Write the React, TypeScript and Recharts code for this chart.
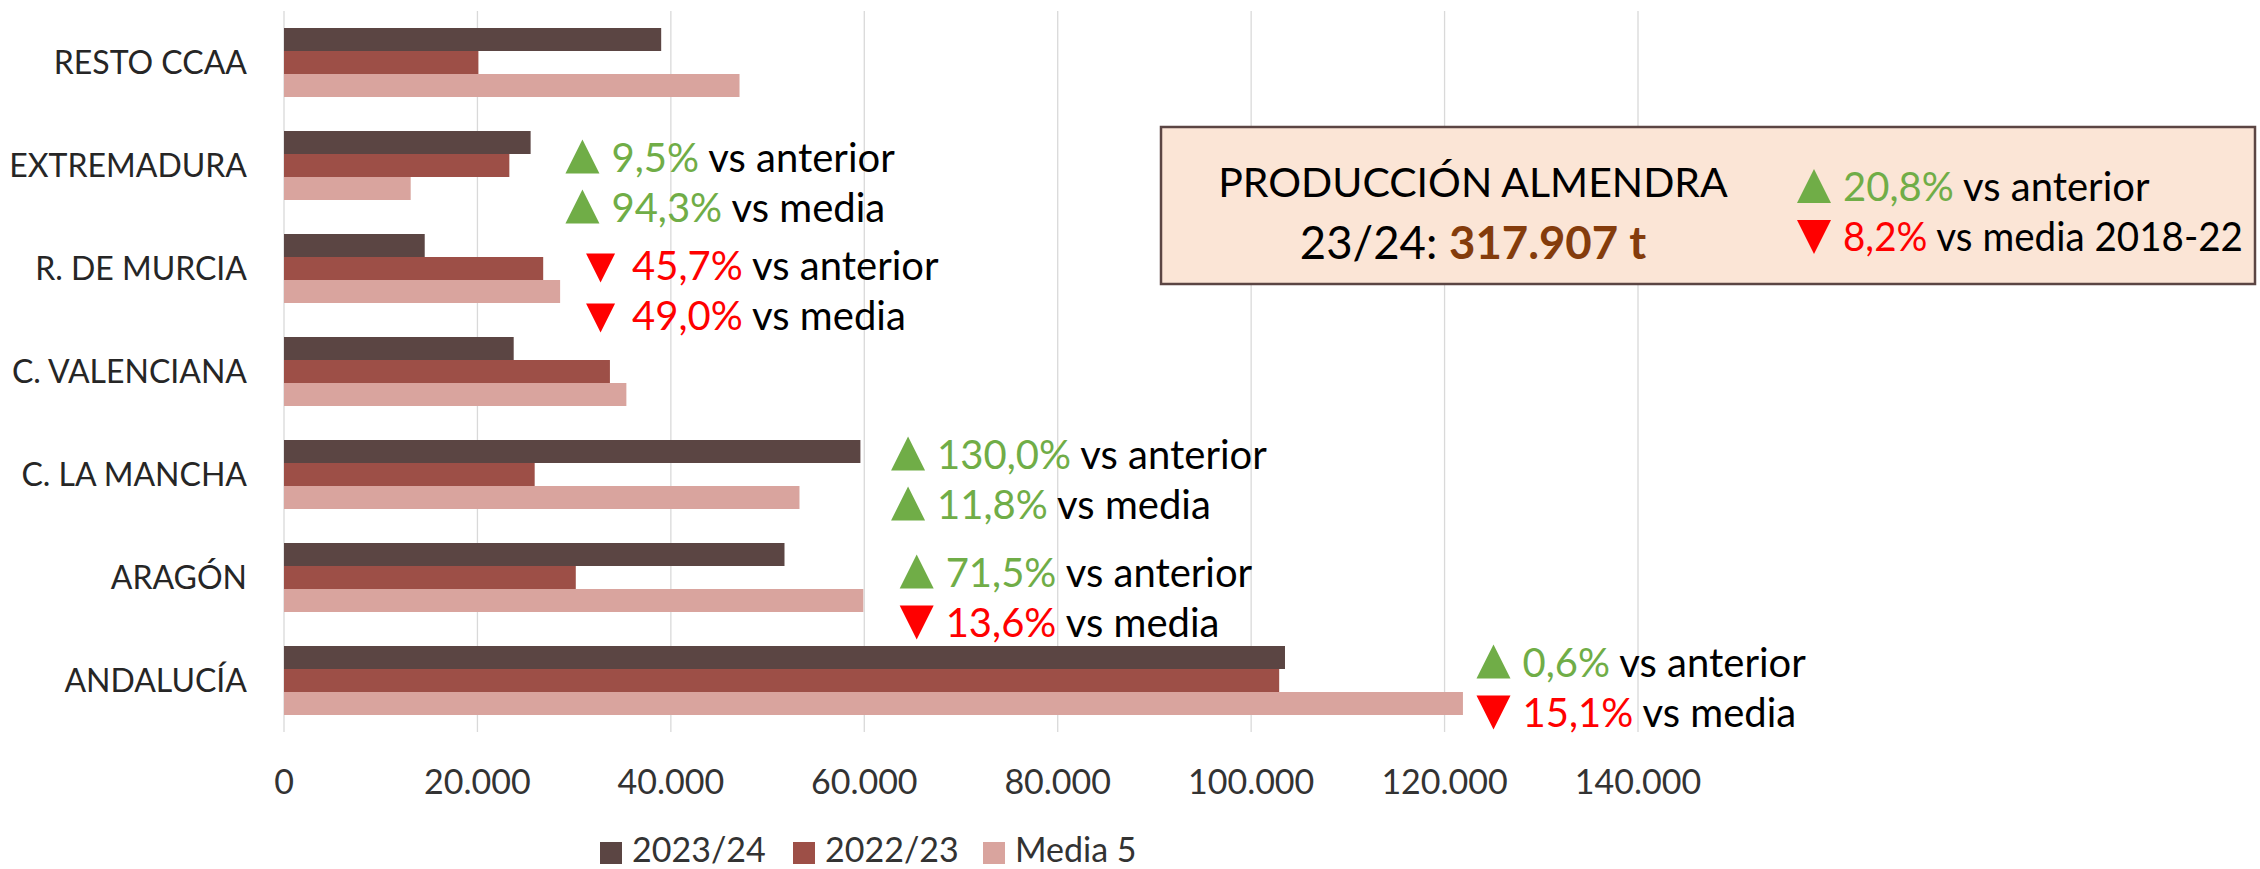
import React from 'react';
import { BarChart, Bar, XAxis, YAxis, CartesianGrid, Legend, ReferenceDot } from 'recharts';

// ---------- data ----------
const categories = ['RESTO CCAA', 'EXTREMADURA', 'R. DE MURCIA', 'C. VALENCIANA', 'C. LA MANCHA', 'ARAGÓN', 'ANDALUCÍA'];
const serie2324 = [39000, 25500, 14550, 23750, 59600, 51750, 103500];
const serie2223 = [20100, 23300, 26800, 33700, 25920, 30170, 102900];
const serieMedia5 = [47100, 13100, 28550, 35400, 53300, 59900, 121900];
const seriesNames = ['2023/24', '2022/23', 'Media 5'];
const xTicks = [0, 20000, 40000, 60000, 80000, 100000, 120000, 140000];

const annCategories = ['EXTREMADURA', 'R. DE MURCIA', 'C. LA MANCHA', 'ARAGÓN', 'ANDALUCÍA'];
const annAnchorValues = [29100, 31230, 62770, 63660, 123300];
const annVsAnterior = [9.5, -45.7, 130.0, 71.5, 0.6];
const annVsMedia = [94.3, -49.0, 11.8, -13.6, -15.1];

const summaryTitle = 'PRODUCCIÓN ALMENDRA';
const summaryLabel = '23/24: ';
const summaryValue = '317.907 t';
const summaryVsAnterior = 20.8;
const summaryVsMedia = -8.2;

// ---------- layout / style ----------
const W = 2260;
const H = 869;
const FONT = 'Lato, "Open Sans", sans-serif';
const C_DARK = '#5B4543';
const C_MED = '#9D4F47';
const C_LIGHT = '#D9A49E';
const GREEN = '#70AD47';
const RED = '#FF0000';
const annDy = [6, 11, -6, 9, -4];
const annTriSize = [34, 29, 34, 34, 34];
const legendX = [600, 793, 983];

const data = categories.map((name, i) => ({
  name,
  v2324: serie2324[i],
  v2223: serie2223[i],
  media: serieMedia5[i],
}));

const fmtThousands = (v: number) => String(Math.round(v)).replace(/\B(?=(\d{3})+(?!\d))/g, '.');
const fmtPct = (v: number) => Math.abs(v).toFixed(1).replace('.', ',') + '%';

const Triangle = ({ x, b, up, s, color }: { x: number; b: number; up: boolean; s: number; color: string }) => {
  const pts = up
    ? `${x},${b + 2} ${x + s},${b + 2} ${x + s / 2},${b + 2 - s}`
    : `${x},${b + 3 - s} ${x + s},${b + 3 - s} ${x + s / 2},${b + 3}`;
  return <polygon points={pts} fill={color} />;
};

const makeAnnotation = (idx: number) => (props: any) => {
  const { cx, cy } = props;
  const vals = [annVsAnterior[idx], annVsMedia[idx]];
  const labels = ['vs anterior', 'vs media'];
  return (
    <g>
      {vals.map((v, i) => {
        const b = cy + annDy[idx] + i * 50;
        const up = v >= 0;
        return (
          <g key={i}>
            <Triangle x={cx} b={b} up={up} s={annTriSize[idx]} color={up ? GREEN : RED} />
            <text x={cx + 46} y={b} fontFamily={FONT} fontSize={40} style={{ whiteSpace: 'pre' }}>
              <tspan fill={up ? GREEN : RED}>{fmtPct(v)}</tspan>
              <tspan fill="#000">{' ' + labels[i]}</tspan>
            </text>
          </g>
        );
      })}
    </g>
  );
};

const LegendContent = () => (
  <svg width={W} height={50} style={{ display: 'block', overflow: 'visible' }}>
    {seriesNames.map((n, i) => (
      <g key={n}>
        <rect x={legendX[i]} y={23} width={22} height={22} fill={[C_DARK, C_MED, C_LIGHT][i]} />
        <text x={legendX[i] + 32} y={43} fontFamily={FONT} fontSize={34} fill="#333">
          {n}
        </text>
      </g>
    ))}
  </svg>
);

const SummaryBox = () => {
  const up = summaryVsAnterior >= 0;
  const up2 = summaryVsMedia >= 0;
  return (
    <svg width={W} height={H} style={{ position: 'absolute', left: 0, top: 0, pointerEvents: 'none' }}>
      <rect x={1161} y={127} width={1094} height={157} fill="#FBE5D6" stroke="#5B4543" strokeWidth={2.5} />
      <text x={1473} y={197} textAnchor="middle" fontFamily={FONT} fontSize={41} fill="#000">
        {summaryTitle}
      </text>
      <text x={1473} y={259} textAnchor="middle" fontFamily={FONT} fontSize={45.5} fill="#000" style={{ whiteSpace: 'pre' }}>
        <tspan>{summaryLabel}</tspan>
        <tspan fontWeight="bold" fill="#843C0C">{summaryValue}</tspan>
      </text>
      <Triangle x={1797} b={201} up={up} s={34} color={up ? GREEN : RED} />
      <text x={1843} y={201} fontFamily={FONT} fontSize={40} style={{ whiteSpace: 'pre' }}>
        <tspan fill={up ? GREEN : RED}>{fmtPct(summaryVsAnterior)}</tspan>
        <tspan fill="#000">{' vs anterior'}</tspan>
      </text>
      <Triangle x={1797} b={251} up={up2} s={34} color={up2 ? GREEN : RED} />
      <text
        x={1843}
        y={251}
        fontFamily={FONT}
        fontSize={40}
        textLength={400}
        lengthAdjust="spacingAndGlyphs"
        style={{ whiteSpace: 'pre' }}
      >
        <tspan fill={up2 ? GREEN : RED}>{fmtPct(summaryVsMedia)}</tspan>
        <tspan fill="#000">{' vs media 2018-22'}</tspan>
      </text>
    </svg>
  );
};

export default function App() {
  return (
    <div style={{ position: 'absolute', left: 0, top: 0, width: W, height: H, background: '#fff', fontFamily: FONT }}>
      <BarChart
        width={W}
        height={H}
        data={data}
        layout="vertical"
        margin={{ top: 11, right: 622, left: 0, bottom: 0 }}
        barGap={0}
        barSize={23}
      >
        <CartesianGrid horizontal={false} stroke="#D9D9D9" strokeWidth={1.3} />
        <XAxis
          type="number"
          domain={[0, 140000]}
          ticks={xTicks}
          tickFormatter={fmtThousands}
          axisLine={false}
          tickLine={false}
          tickSize={0}
          tickMargin={38}
          height={87}
          interval={0}
          tick={{ fill: '#333', fontSize: 34, fontFamily: FONT }}
        />
        <YAxis
          type="category"
          dataKey="name"
          width={284}
          axisLine={false}
          tickLine={false}
          tickSize={0}
          tickMargin={37}
          interval={0}
          tick={{ fill: '#262626', fontSize: 32, fontFamily: FONT }}
        />
        <Bar dataKey="v2324" name={seriesNames[0]} fill={C_DARK} isAnimationActive={false} />
        <Bar dataKey="v2223" name={seriesNames[1]} fill={C_MED} isAnimationActive={false} />
        <Bar dataKey="media" name={seriesNames[2]} fill={C_LIGHT} isAnimationActive={false} />
        {annCategories.map((c, i) => (
          <ReferenceDot
            key={c}
            x={annAnchorValues[i]}
            y={c}
            r={0}
            ifOverflow="visible"
            shape={makeAnnotation(i)}
          />
        ))}
        <Legend
          verticalAlign="bottom"
          content={LegendContent}
          wrapperStyle={{ left: 0, bottom: 0, width: W, height: 50 }}
        />
      </BarChart>
      <SummaryBox />
    </div>
  );
}
